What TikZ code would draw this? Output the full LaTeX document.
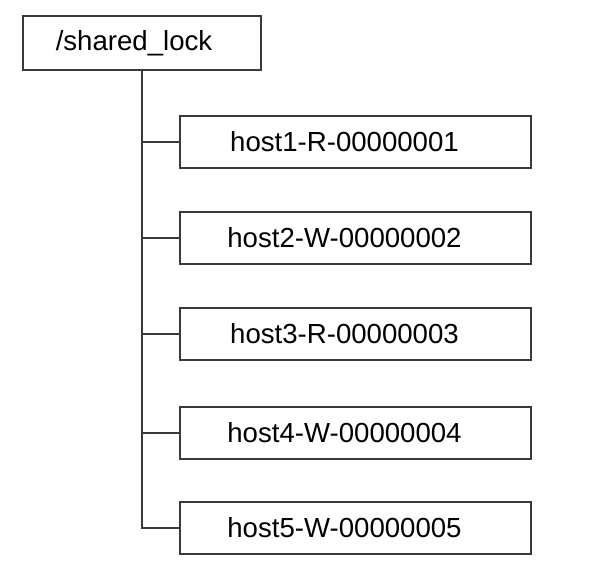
\documentclass[tikz,border=0pt]{standalone}
\usepackage{fontspec}
\setmainfont{Liberation Sans}
\definecolor{ink}{HTML}{3A3A3A}

\begin{document}
\begin{tikzpicture}[
  x=0.5pt,y=-0.5pt,
  box/.style={draw=ink,line width=1pt,fill=white,inner sep=0pt,
    font=\fontsize{13.8}{16}\selectfont},
  lockbox/.style={box,minimum width=119pt,minimum height=27pt,
    execute at begin node=\hspace*{-8pt}},
  hostbox/.style={box,minimum width=175.5pt,minimum height=26pt,
    execute at begin node=\hspace*{-11pt}},
  link/.style={draw=ink,line width=1pt},
]
  \useasboundingbox (0,0) rectangle (600,584);
  \node[lockbox] (lock) at (142,43) {/shared\_lock};
  \node[hostbox] (h1) at (355.5,141.5) {host1-R-00000001};
  \node[hostbox] (h2) at (355.5,237.5) {host2-W-00000002};
  \node[hostbox] (h3) at (355.5,334) {host3-R-00000003};
  \node[hostbox] (h4) at (355.5,432.5) {host4-W-00000004};
  \node[hostbox] (h5) at (355.5,528) {host5-W-00000005};
  \draw[link] (lock.south) |- (h5.west);
  \draw[link] (lock.south |- h1.west) -- (h1.west);
  \draw[link] (lock.south |- h2.west) -- (h2.west);
  \draw[link] (lock.south |- h3.west) -- (h3.west);
  \draw[link] (lock.south |- h4.west) -- (h4.west);
\end{tikzpicture}
\end{document}
